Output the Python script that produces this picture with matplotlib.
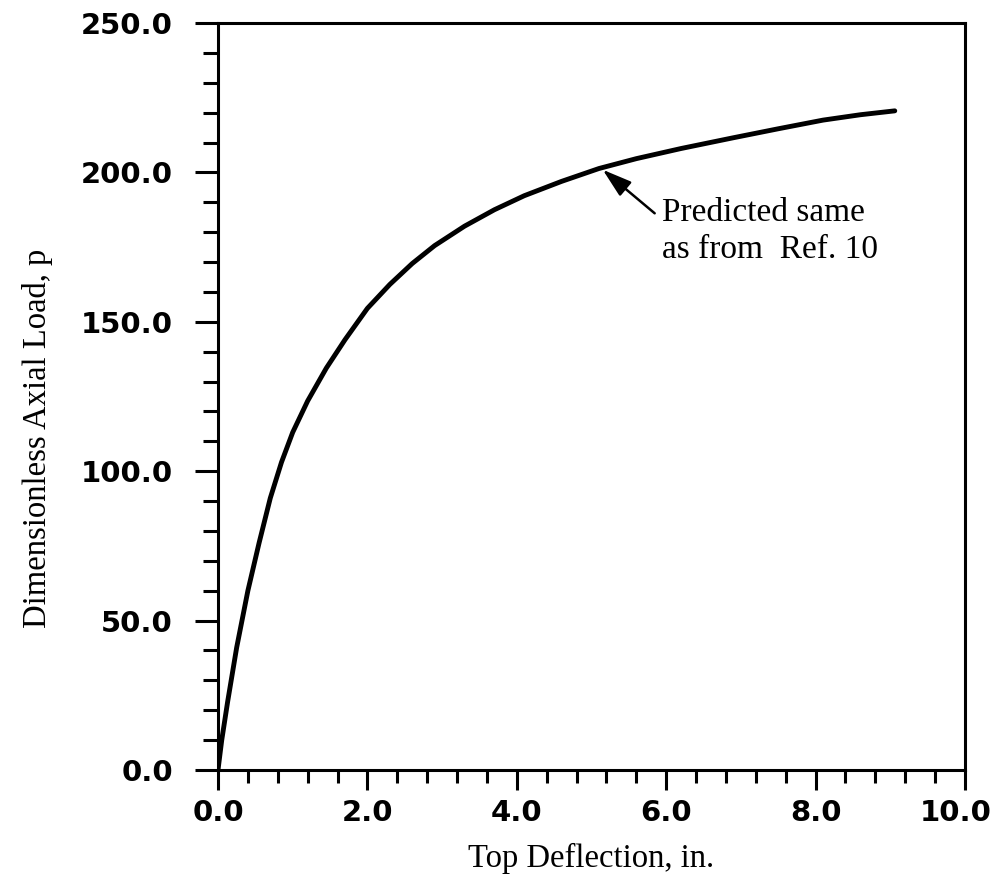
import matplotlib
matplotlib.use("Agg")
import matplotlib.pyplot as plt
from matplotlib.ticker import FixedLocator, FixedFormatter, MultipleLocator

deflection = [0, 0.05, 0.13, 0.25, 0.4, 0.55, 0.7, 0.85, 1.0, 1.2, 1.45, 1.7,
              2.0, 2.3, 2.6, 2.9, 3.3, 3.7, 4.1, 4.6, 5.1, 5.6, 6.2, 6.9,
              7.5, 8.1, 8.6, 9.06]
load = [0, 10, 23, 41, 60, 76, 91, 103, 113, 123.5, 134.5, 144,
        154.5, 162.5, 169.5, 175.5, 182, 187.5, 192.2, 197, 201.3, 204.6, 208, 211.6,
        214.6, 217.5, 219.3, 220.6]

x_ticks = [0, 2, 4, 6, 8, 10]
x_tick_labels = ["0.0", "2.0", "4.0", "6.0", "8.0", "10.0"]
y_ticks = [0, 50, 100, 150, 200, 250]
y_tick_labels = ["0.0", "50.0", "100.0", "150.0", "200.0", "250.0"]

x_title = "Top Deflection, in."
y_title = "Dimensionless Axial Load, p"
annot_text = "Predicted same\nas from  Ref. 10"
annot_tip = (5.15, 200.9)
annot_pos = (5.94, 191.5)

W, H = 997, 881
fig = plt.figure(figsize=(W / 100, H / 100), dpi=100)
ax = fig.add_axes([218 / W, 1 - 770 / H, (965 - 218) / W, (770 - 23) / H])

ax.plot(deflection, load, color="black", lw=3.5, solid_capstyle="round")

ax.set_xlim(0, 10)
ax.set_ylim(0, 250)
ax.xaxis.set_major_locator(FixedLocator(x_ticks))
ax.xaxis.set_minor_locator(MultipleLocator(0.4))
ax.yaxis.set_major_locator(FixedLocator(y_ticks))
ax.yaxis.set_minor_locator(MultipleLocator(10))
# last x label is drawn separately (shifted left, as in the original)
ax.xaxis.set_major_formatter(FixedFormatter(x_tick_labels[:-1] + [""]))
ax.yaxis.set_major_formatter(FixedFormatter(y_tick_labels))

for s in ax.spines.values():
    s.set_linewidth(2.2)

ax.tick_params(axis="y", which="major", direction="out", length=16.5, width=2.2, pad=16)
ax.tick_params(axis="y", which="minor", direction="out", length=11, width=2.2)
ax.tick_params(axis="x", which="major", direction="out", length=14.4, width=2.2, pad=6.5)
ax.tick_params(axis="x", which="minor", direction="out", length=9.4, width=2.2)

tick_font = dict(family="DejaVu Sans", weight="bold", size=21)
for lab in ax.get_xticklabels() + ax.get_yticklabels():
    lab.set_fontfamily(tick_font["family"])
    lab.set_fontweight(tick_font["weight"])
    lab.set_fontsize(tick_font["size"])

fig.canvas.draw()
ref_bb = ax.get_xticklabels()[-2].get_window_extent()
fig.text(956 / W, ref_bb.y0 / H, x_tick_labels[-1], ha="center", va="bottom", **tick_font)

fig.text(591.5 / W, 1 - 867 / H, x_title, family="Liberation Serif", fontsize=23.5,
         ha="center", va="baseline")
fig.text(38 / W, 1 - 438 / H, y_title, family="Liberation Serif", fontsize=23.5,
         rotation=90, ha="center", va="center")

ax.annotate(annot_text, xy=annot_tip, xytext=annot_pos,
            family="Liberation Serif", fontsize=24, ha="left", va="top",
            linespacing=1.25,
            arrowprops=dict(arrowstyle="-|>,head_length=0.9,head_width=0.28",
                            mutation_scale=20, relpos=(0, 0.68),
                            color="black", lw=1.8, shrinkA=4, shrinkB=0))

fig.savefig("out.png", dpi=100, facecolor="white")
